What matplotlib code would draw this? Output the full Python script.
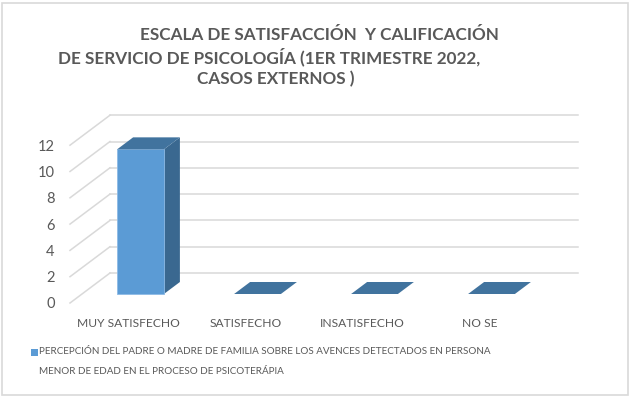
import matplotlib
matplotlib.use('Agg')
import matplotlib.pyplot as plt
from matplotlib.patches import Polygon, Rectangle
from matplotlib import font_manager

categories = ['MUY SATISFECHO', 'SATISFECHO', 'INSATISFECHO', 'NO SE']
values = [11, 0, 0, 0]
yticks = [0, 2, 4, 6, 8, 10, 12]
series_label = ['PERCEPCIÓN DEL PADRE O MADRE DE FAMILIA SOBRE LOS AVENCES DETECTADOS EN PERSONA',
                'MENOR DE EDAD EN EL PROCESO DE PSICOTERÁPIA']
title_lines = ['ESCALA DE SATISFACCIÓN  Y CALIFICACIÓN',
               'DE SERVICIO DE PSICOLOGÍA (1ER TRIMESTRE 2022,',
               'CASOS EXTERNOS )']

names = {f.name for f in font_manager.fontManager.ttflist}
FONT = 'Liberation Sans Narrow' if 'Liberation Sans Narrow' in names else 'Lato'
GRAY = '#595959'
GRID = '#D9D9D9'
FRONT = '#5B9BD5'
SIDE = '#3A6890'
TOP = '#41739E'

W, H = 630, 396
fig = plt.figure(figsize=(W / 100, H / 100), dpi=100)
fig.patch.set_facecolor('white')
renderer = fig.canvas.get_renderer()

fig.add_artist(Rectangle((1.5 / W, 1.5 / H), (W - 4) / W, (H - 4) / H, transform=fig.transFigure,
                         fill=False, edgecolor='#D9D9D9', lw=1.2))

ax = fig.add_axes([70 / W, (H - 303) / H, 468 / W, 157.8 / H])
ax.set_xlim(-0.5, len(categories) - 0.5)
ax.set_ylim(0, 12)
ax.patch.set_alpha(0)
for s in ax.spines.values():
    s.set_visible(False)

DX = 40 / 117
DY = 30 / 13.15


def P(x, y, z):
    return (x + z * DX, y + z * DY)


xl0, xl1 = ax.get_xlim()
for t in yticks:
    a, b = P(xl0, t, 1), P(xl1, t, 1)
    ax.plot([a[0], b[0]], [a[1], b[1]], color=GRID, lw=1.1, clip_on=False, zorder=1)
    c = P(xl0, t, 0)
    ax.plot([c[0], a[0]], [c[1], a[1]], color=GRID, lw=1.1, clip_on=False, zorder=1)

bw = 0.4
z0, z1 = 0.3, 0.7
for i, v in enumerate(values):
    x0, x1 = i - bw / 2, i + bw / 2
    if v > 0:
        side = [P(x1, 0, z0), P(x1, 0, z1), P(x1, v, z1), P(x1, v, z0)]
        ax.add_patch(Polygon(side, closed=True, facecolor=SIDE, edgecolor='none', clip_on=False, zorder=3))
        front = [P(x0, 0, z0), P(x1, 0, z0), P(x1, v, z0), P(x0, v, z0)]
        ax.add_patch(Polygon(front, closed=True, facecolor=FRONT, edgecolor='#8DBBE6', lw=0.6, clip_on=False, zorder=4))
    top = [P(x0, v, z0), P(x1, v, z0), P(x1, v, z1), P(x0, v, z1)]
    ax.add_patch(Polygon(top, closed=True, facecolor=TOP, edgecolor='none', clip_on=False, zorder=5))


def fit(text_obj, target_w):
    w = text_obj.get_window_extent(renderer).width
    text_obj.set_fontsize(text_obj.get_fontsize() * target_w / w)


ax.set_yticks(yticks)
ax.set_yticklabels([str(t) for t in yticks], fontfamily=FONT, fontsize=10.5, color=GRAY)
ax.set_xticks(range(len(categories)))
xl = ax.set_xticklabels(categories, fontfamily=FONT, fontsize=10, color=GRAY)
fit(xl[0], 102)
for t in xl[1:]:
    t.set_fontsize(xl[0].get_fontsize())
ax.tick_params(axis='y', length=0, pad=11)
ax.tick_params(axis='x', length=0, pad=11)

# title
t2 = fig.text(58 / W, 1 - 57 / H, title_lines[1], fontfamily=FONT, fontweight='bold', fontsize=13,
              color=GRAY, ha='left', va='center')
fit(t2, 422)
fs = t2.get_fontsize()
fig.text(140 / W, 1 - 35 / H, title_lines[0], fontfamily=FONT, fontweight='bold', fontsize=fs,
         color=GRAY, ha='left', va='center')
fig.text(197 / W, 1 - 79 / H, title_lines[2], fontfamily=FONT, fontweight='bold', fontsize=fs,
         color=GRAY, ha='left', va='center')

# legend
fig.add_artist(Rectangle((31 / W, 1 - 356 / H), 7 / W, 7 / H, transform=fig.transFigure,
                         facecolor=FRONT, edgecolor='none'))
l1 = fig.text(39 / W, 1 - 352 / H, series_label[0], fontfamily=FONT, fontsize=9, color=GRAY,
              ha='left', va='center')
fit(l1, 454)
fig.text(39 / W, 1 - 372 / H, series_label[1], fontfamily=FONT, fontsize=l1.get_fontsize(), color=GRAY,
         ha='left', va='center')

fig.savefig('out.png', dpi=100, facecolor='white')
